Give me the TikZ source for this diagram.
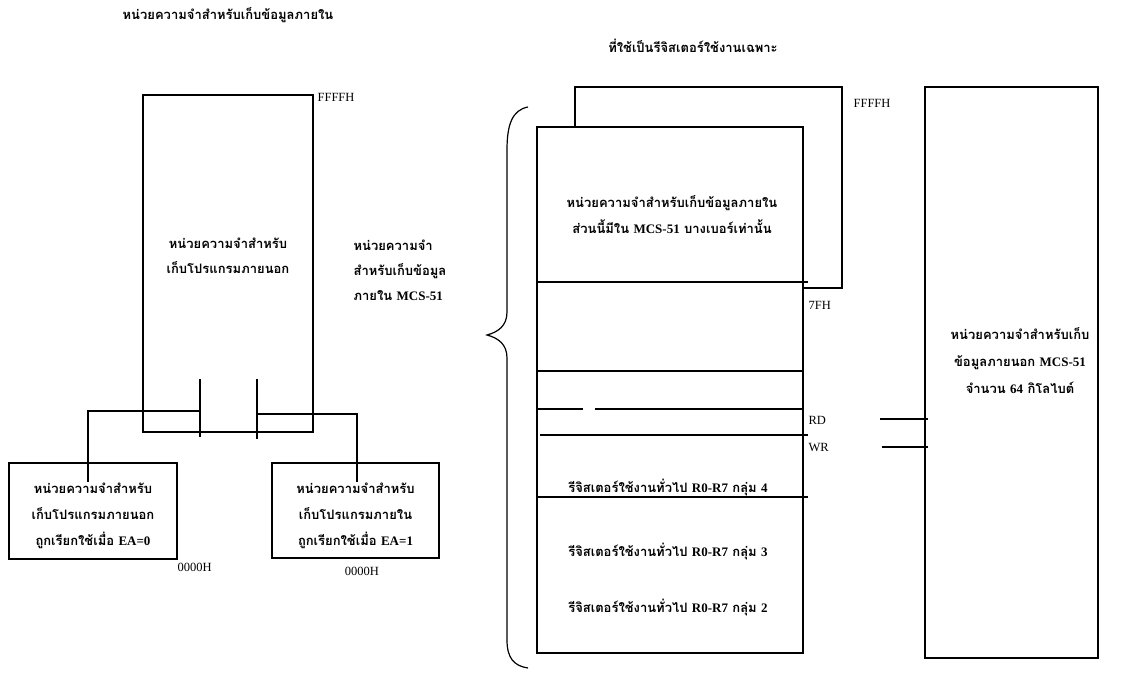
\documentclass[tikz,border=0pt]{standalone}
\usepackage{fontspec}
\setmainfont{Liberation Serif}
\newfontfamily\thaifont[Script=Thai]{Loma}
\usetikzlibrary{positioning}
\newcommand{\lat}[1]{{\rmfamily #1}}

\tikzset{
  memblock/.style={draw, fill=white, inner sep=0pt},
  thlabel/.style={font=\thaifont\bfseries\fontsize{13}{25}\selectfont, align=center, inner sep=1pt},
  addrlabel/.style={font=\fontsize{12.5}{14}\selectfont, inner sep=1pt, anchor=west},
}

\begin{document}
\begin{tikzpicture}[x=1pt, y=-1pt, line width=1.2pt]
        \useasboundingbox (0,0) rectangle (1138,676);

        % Titles
        \node[thlabel] (titleint) at (228,15) {หน่วยความจำสำหรับเก็บข้อมูลภายใน};
        \node[thlabel] (titlesfr) at (693,46) {ที่ใช้เป็นรีจิสเตอร์ใช้งานเฉพาะ};

        % External program memory
        \node[memblock, minimum width=170, minimum height=337] (extprog) at (228,263.5) {};
        \node[thlabel] (extprogtxt) at (228,256) {หน่วยความจำสำหรับ\\เก็บโปรแกรมภายนอก};
        \node[addrlabel] (extprogtop) at (316,97) {FFFFH};

        % Selection marks on the program memory
        \coordinate (markA) at (200,379);
        \coordinate (markB) at (257,379);
        \draw (markA) -- ++(0,58);
        \draw (markB) -- ++(0,60);

        % Program memory chosen by EA
        \node[memblock, minimum width=168, minimum height=96] (progea0) at (93,511) {};
        \node[thlabel, font=\thaifont\bfseries\fontsize{13}{26}\selectfont] (progea0txt) at (93,516) {หน่วยความจำสำหรับ\\เก็บโปรแกรมภายนอก\\ถูกเรียกใช้เมื่อ \lat{EA=0}};
        \node[addrlabel] (progea0bot) at (176,567) {0000H};

        \node[memblock, minimum width=167, minimum height=95] (progea1) at (355.5,510.5) {};
        \node[thlabel, font=\thaifont\bfseries\fontsize{13}{26}\selectfont] (progea1txt) at (355.5,516) {หน่วยความจำสำหรับ\\เก็บโปรแกรมภายใน\\ถูกเรียกใช้เมื่อ \lat{EA=1}};
        \node[addrlabel, anchor=center] (progea1bot) at (362,571) {0000H};

        % Lines from the marks to the EA boxes
        \coordinate (legA) at (88,482);
        \coordinate (legB) at (357,482);
        \draw (markA |- 0,411) -| (legA);
        \draw (markB |- 0,414) -| (legB);

        % Internal data memory note
        \node[thlabel, align=left, anchor=west] (intnote) at (352,270) {หน่วยความจำ\\สำหรับเก็บข้อมูล\\ภายใน \lat{MCS-51}};

        % Brace over the internal data memory
        \draw (528,107) .. controls (512,110) and (507,125) .. (507,150) -- (507,312)
              .. controls (507,326) and (498,332) .. (487,335)
              .. controls (498,338) and (507,344) .. (507,358) -- (507,640)
              .. controls (507,658) and (514,666) .. (528,668);

        % Upper internal data memory (back) and internal data memory (front)
        \node[memblock, minimum width=267, minimum height=201] (uppram) at (708.5,187.5) {};
        \node[memblock, minimum width=266, minimum height=526] (intram) at (670,390) {};
        \node[addrlabel] (upptop) at (852,103) {FFFFH};

        \node[thlabel, font=\thaifont\bfseries\fontsize{13}{26}\selectfont] (upptxt) at (672,215) {หน่วยความจำสำหรับเก็บข้อมูลภายใน\\ส่วนนี้มีใน \lat{MCS-51} บางเบอร์เท่านั้น};

        % Dividers in the internal data memory
        \draw (537,282) -- (808,282);
        \draw (537,371) -- (803,371);
        \draw (537,409) -- (583,409);
        \draw (595,409) -- (803,409);
        \draw (540,435) -- (808,435);
        \draw (537,497) -- (808,497);

        \node[addrlabel] (lim7f) at (807,305) {7FH};
        \node[addrlabel] (rdlbl) at (807,420) {RD};
        \node[addrlabel] (wrlbl) at (807,448) {WR};

        % Register banks
        \node[thlabel] (bank4) at (668,488) {รีจิสเตอร์ใช้งานทั่วไป \lat{R0-R7} กลุ่ม \lat{4}};
        \node[thlabel] (bank3) at (668,552) {รีจิสเตอร์ใช้งานทั่วไป \lat{R0-R7} กลุ่ม \lat{3}};
        \node[thlabel] (bank2) at (668,608) {รีจิสเตอร์ใช้งานทั่วไป \lat{R0-R7} กลุ่ม \lat{2}};

        % External data memory
        \node[memblock, minimum width=173, minimum height=571] (extram) at (1011.5,372.5) {};
        \node[thlabel, font=\thaifont\bfseries\fontsize{13}{27}\selectfont] (extramtxt) at (1020,361) {หน่วยความจำสำหรับเก็บ\\ข้อมูลภายนอก \lat{MCS-51}\\จำนวน \lat{64} กิโลไบต์};

        % RD and WR lines
        \coordinate (rdstub) at (880,419);
        \coordinate (wrstub) at (882,447);
        \draw (rdstub) -- (rdstub -| extram.west) -- ++(4,0);
        \draw (wrstub) -- (wrstub -| extram.west) -- ++(4,0);

\end{tikzpicture}
\end{document}
